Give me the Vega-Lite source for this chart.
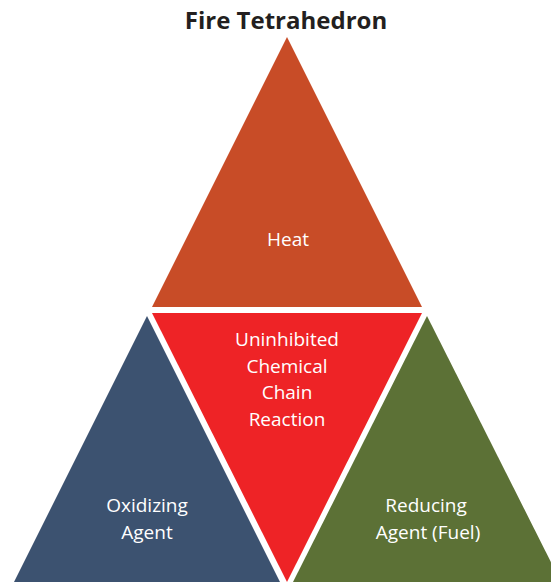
{
  "$schema": "https://vega.github.io/schema/vega-lite/v6.json",
  "width": 551,
  "height": 582,
  "autosize": "none",
  "padding": 0,
  "config": {"view": {"stroke": null}},
  "layer": [
    {
      "data": {
        "values": [
          {"shape": "Heat", "x": 152, "y": 307, "y2": 307},
          {"shape": "Heat", "x": 287, "y": 37, "y2": 307},
          {"shape": "Heat", "x": 422, "y": 307, "y2": 307},
          {"shape": "Chain", "x": 152, "y": 313, "y2": 313},
          {"shape": "Chain", "x": 287, "y": 313, "y2": 582},
          {"shape": "Chain", "x": 422, "y": 313, "y2": 313},
          {"shape": "Oxidizer", "x": 14, "y": 582, "y2": 582},
          {"shape": "Oxidizer", "x": 147, "y": 316, "y2": 582},
          {"shape": "Oxidizer", "x": 280, "y": 582, "y2": 582},
          {"shape": "Fuel", "x": 293, "y": 582, "y2": 582},
          {"shape": "Fuel", "x": 427, "y": 316, "y2": 582},
          {"shape": "Fuel", "x": 561, "y": 582, "y2": 582}
        ]
      },
      "mark": {"type": "area", "clip": true, "opacity": 1},
      "encoding": {
        "x": {"field": "x", "type": "quantitative", "scale": {"domain": [0, 551], "nice": false, "zero": false}, "axis": null},
        "y": {"field": "y", "type": "quantitative", "stack": null, "scale": {"domain": [0, 582], "reverse": true, "nice": false, "zero": false}, "axis": null},
        "y2": {"field": "y2"},
        "color": {
          "field": "shape",
          "type": "nominal",
          "scale": {"domain": ["Heat", "Chain", "Oxidizer", "Fuel"], "range": ["#C84C27", "#EE2326", "#3C5270", "#5C7136"]},
          "legend": null
        }
      }
    },
    {
      "data": {
        "values": [
          {"label": "Heat", "x": 288, "y": 240},
          {"label": "Uninhibited", "x": 287, "y": 340},
          {"label": "Chemical", "x": 287, "y": 367},
          {"label": "Chain", "x": 287, "y": 393},
          {"label": "Reaction", "x": 287, "y": 420},
          {"label": "Oxidizing", "x": 147, "y": 506},
          {"label": "Agent", "x": 147, "y": 533},
          {"label": "Reducing", "x": 426, "y": 506},
          {"label": "Agent (Fuel)", "x": 428, "y": 533}
        ]
      },
      "mark": {"type": "text", "color": "white", "font": "Open Sans", "fontSize": 19, "letterSpacing": 0.6, "align": "center", "baseline": "middle"},
      "encoding": {
        "x": {"field": "x", "type": "quantitative"},
        "y": {"field": "y", "type": "quantitative"},
        "text": {"field": "label"}
      }
    },
    {
      "data": {"values": [{"label": "Fire Tetrahedron", "x": 286, "y": 22}]},
      "mark": {"type": "text", "color": "#231F20", "font": "Open Sans", "fontWeight": "bold", "fontSize": 24, "align": "center", "baseline": "middle"},
      "encoding": {
        "x": {"field": "x", "type": "quantitative"},
        "y": {"field": "y", "type": "quantitative"},
        "text": {"field": "label"}
      }
    }
  ]
}
